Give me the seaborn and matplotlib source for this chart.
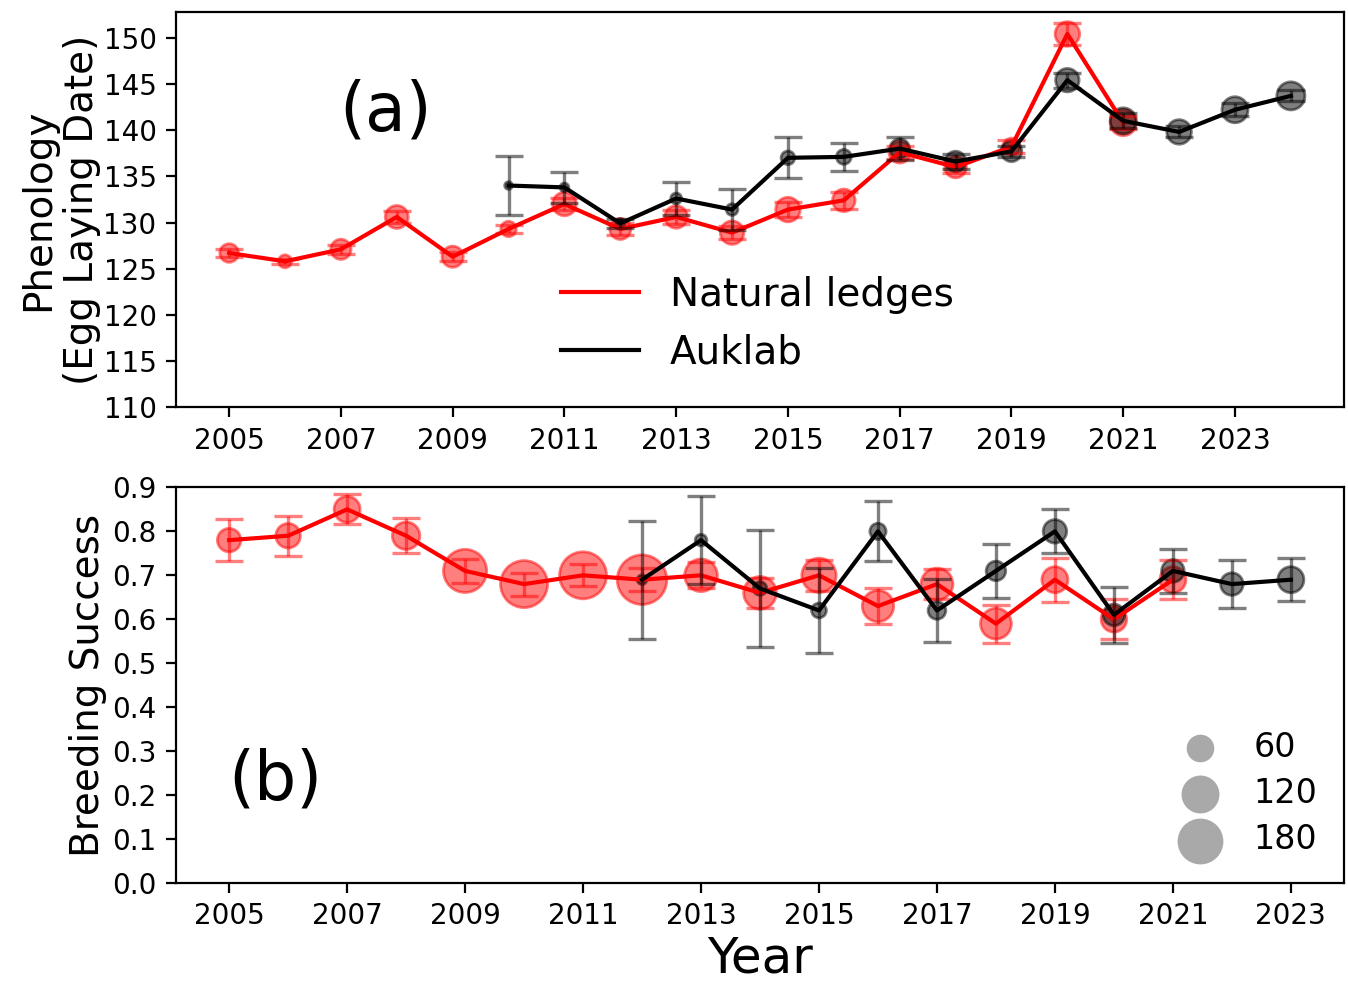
import numpy as np
import pandas as pd
import matplotlib
matplotlib.use("Agg")
import matplotlib.pyplot as plt
import seaborn as sns

# ---- data ----
# (a) phenology: egg laying date
years_nat_a = list(range(2005, 2022))
lay_nat = [126.7, 125.8, 127.1, 130.6, 126.3, 129.3, 132.0, 129.3, 130.6, 128.9,
           131.4, 132.4, 137.6, 136.0, 138.2, 150.4, 140.8]
lay_nat_err = [0.4, 0.3, 0.5, 0.6, 0.5, 0.4, 0.7, 0.6, 0.8, 0.7,
               0.8, 0.9, 0.7, 0.6, 0.7, 1.2, 0.7]
n_nat_a = [41, 20, 48, 62, 53, 28, 65, 52, 60, 65, 71, 60, 55, 55, 35, 71, 80]

years_auk_a = list(range(2010, 2025))
lay_auk = [134.0, 133.8, 129.9, 132.6, 131.4, 137.0, 137.1, 138.0, 136.6, 137.7,
           145.4, 141.0, 139.8, 142.2, 143.7]
lay_auk_err = [3.2, 1.7, 0.5, 1.8, 2.2, 2.2, 1.5, 1.2, 0.8, 0.6,
               0.8, 0.8, 0.6, 0.7, 0.6]
n_auk_a = [7, 9, 11, 14, 16, 22, 26, 45, 50, 50, 65, 80, 71, 80, 93]

# (b) breeding success
years_nat_b = list(range(2005, 2022))
bs_nat = [0.78, 0.79, 0.85, 0.79, 0.71, 0.68, 0.70, 0.69, 0.70, 0.66,
          0.70, 0.63, 0.68, 0.59, 0.69, 0.60, 0.69]
bs_nat_err = [0.048, 0.046, 0.034, 0.04, 0.027, 0.026, 0.025, 0.026, 0.03, 0.035,
              0.035, 0.04, 0.035, 0.043, 0.05, 0.045, 0.045]
n_nat_b = [65, 71, 80, 89, 220, 261, 261, 290, 126, 126, 139, 116, 120, 112, 80, 77, 80]

years_auk_b = list(range(2012, 2024))
bs_auk = [0.69, 0.78, 0.67, 0.62, 0.80, 0.62, 0.71, 0.80, 0.61, 0.71, 0.68, 0.69]
bs_auk_err = [0.134, 0.10, 0.133, 0.097, 0.068, 0.072, 0.062, 0.05, 0.063, 0.05, 0.054, 0.049]
n_auk_b = [11, 16, 22, 26, 31, 37, 45, 65, 55, 60, 60, 80]

legend_sizes = [60, 120, 180]
SIZE_SCALE = 1.1


def draw_series(ax, years, vals, errs, ns, color, label):
    df = pd.DataFrame({"year": years, "val": vals, "err": errs, "n": ns})
    sns.scatterplot(data=df, x="year", y="val", s=df["n"] * SIZE_SCALE,
                    color=color, edgecolor=color, linewidth=1, alpha=0.5,
                    legend=False, ax=ax)
    ax.errorbar(df["year"], df["val"], yerr=df["err"], fmt="none", ecolor=color,
                alpha=0.5, capsize=5, elinewidth=1.2, capthick=1.2)
    sns.lineplot(data=df, x="year", y="val", color=color, linewidth=1.5,
                 label=label, ax=ax)


fig, (ax1, ax2) = plt.subplots(2, 1, figsize=(6.74, 4.905), dpi=200)
fig.subplots_adjust(left=0.1306, right=0.997, top=0.988, bottom=0.0999, hspace=0.2023)

# top panel
draw_series(ax1, years_nat_a, lay_nat, lay_nat_err, n_nat_a, "red", "Natural ledges")
draw_series(ax1, years_auk_a, lay_auk, lay_auk_err, n_auk_a, "black", "Auklab")
ax1.set_ylim(110, 152.8)
ax1.set_yticks(range(110, 151, 5))
ax1.set_xticks(range(2005, 2025, 2))
ax1.set_xlabel("")
ax1.set_ylabel("Phenology\n(Egg Laying Date)", fontsize=14, labelpad=1)
ax1.tick_params(labelsize=10)
ax1.text(0.179, 0.747, "(a)", transform=ax1.transAxes, fontsize=24,
         ha="center", va="center")
ax1.legend(frameon=False, fontsize=14, loc="center",
           bbox_to_anchor=(0.498, 0.212), labelspacing=0.5)

# bottom panel
draw_series(ax2, years_nat_b, bs_nat, bs_nat_err, n_nat_b, "red", None)
draw_series(ax2, years_auk_b, bs_auk, bs_auk_err, n_auk_b, "black", None)
ax2.set_ylim(0, 0.9)
ax2.set_yticks(np.arange(0, 0.91, 0.1))
ax2.set_xticks(range(2005, 2024, 2))
ax2.set_xlabel("Year", fontsize=18, labelpad=1.5)
ax2.set_ylabel("Breeding Success", fontsize=14, labelpad=2)
ax2.tick_params(labelsize=10)
ax2.text(0.085, 0.26, "(b)", transform=ax2.transAxes, fontsize=24,
         ha="center", va="center")

handles = [ax2.scatter([], [], s=v * SIZE_SCALE, color="darkgray") for v in legend_sizes]
ax2.legend(handles, [str(v) for v in legend_sizes], frameon=False, fontsize=12,
           loc="lower right", labelspacing=0.4, handletextpad=0.6,
           borderaxespad=0.4, markerscale=1.1)

fig.savefig("out.png", dpi=200)
